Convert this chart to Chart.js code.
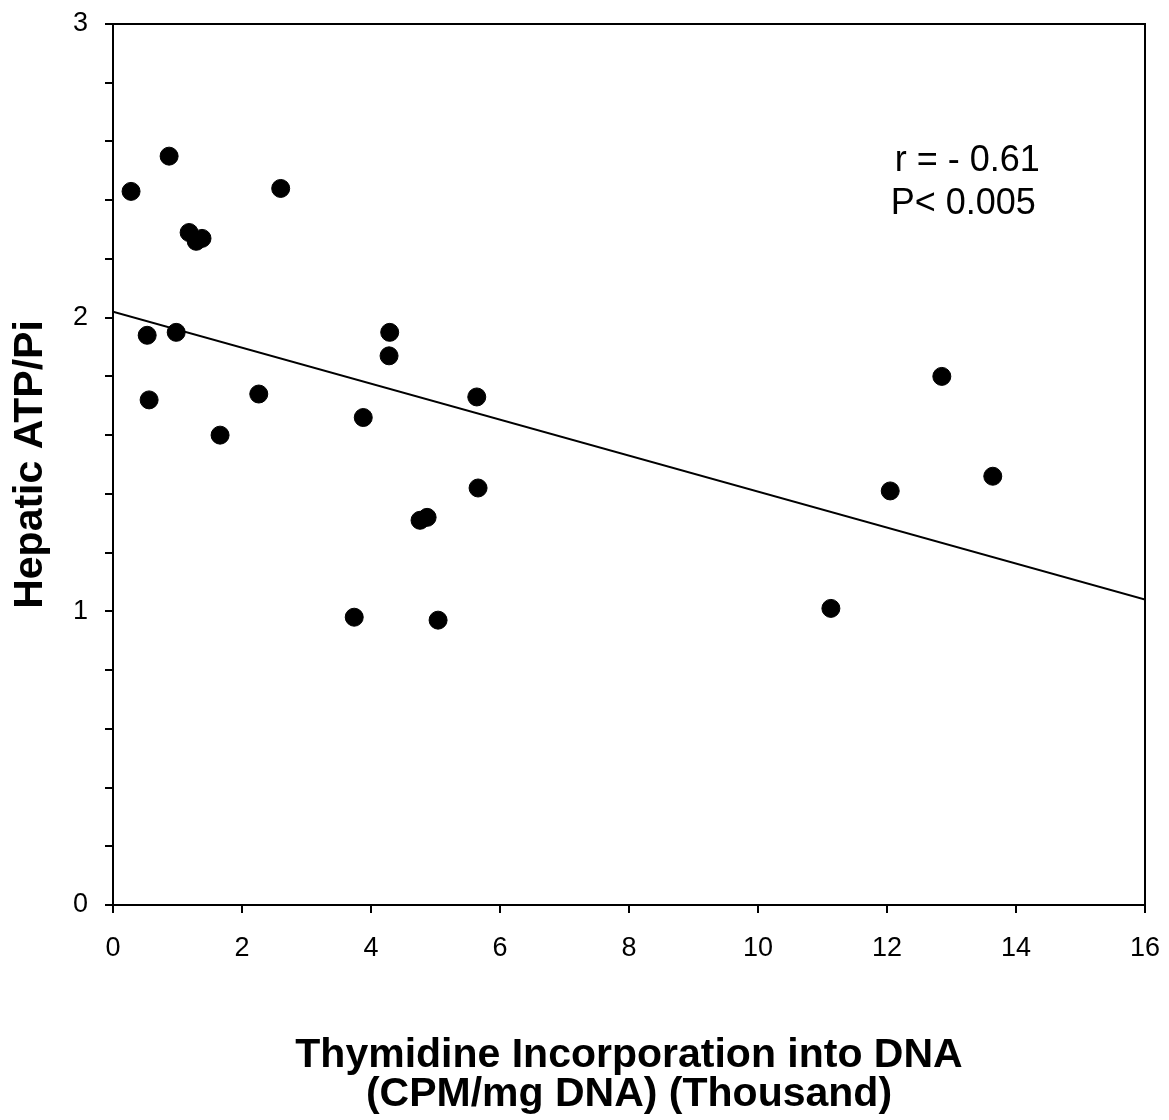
<!DOCTYPE html>
<html>
<head>
<meta charset="utf-8">
<script src="https://cdn.jsdelivr.net/npm/chart.js@4.4.0/dist/chart.umd.min.js"></script>
<style>
  html, body { margin: 0; padding: 0; background: #fff; }
  #wrap { width: 1169px; height: 1120px; }
</style>
</head>
<body>
<div id="wrap"><canvas id="Graph"></canvas></div>
<script>
// data (x in thousand CPM/mg DNA)
const thymidine = [0.28, 0.87, 1.18, 1.29, 1.38, 2.60, 0.53, 0.98, 0.56, 1.66, 2.26,
  4.29, 4.28, 3.88, 5.64, 5.66, 4.76, 4.87, 3.74, 5.04, 11.13, 12.05, 12.85, 13.64];
const atpPi = [2.43, 2.55, 2.29, 2.26, 2.27, 2.44, 1.94, 1.95, 1.72, 1.60, 1.74,
  1.95, 1.87, 1.66, 1.73, 1.42, 1.31, 1.32, 0.98, 0.97, 1.01, 1.41, 1.80, 1.46];
const fitX = [0, 16];
const fitY = [2.02, 1.04];
const statLines = ['r = - 0.61', 'P< 0.005'];

const ctx = document.getElementById('Graph').getContext('2d');

// frame around the plot and the r / P text
const framePlugin = {
  id: 'frame',
  afterDraw(chart) {
    const { ctx, chartArea: a, scales } = chart;
    ctx.save();
    ctx.strokeStyle = '#000';
    ctx.lineWidth = 2;
    ctx.strokeRect(a.left, a.top, a.right - a.left, a.bottom - a.top);
    ctx.fillStyle = '#000';
    ctx.font = '36px "Liberation Sans", Arial, sans-serif';
    ctx.textAlign = 'right';
    ctx.textBaseline = 'middle';
    const x = scales.x.getPixelForValue(14.37);
    ctx.fillText(statLines[0], x, scales.y.getPixelForValue(2.532));
    ctx.fillText(statLines[1], x - 4, scales.y.getPixelForValue(2.387));
    ctx.restore();
  }
};

const titleFont = { family: '"Liberation Sans", Arial, sans-serif', size: 41, weight: 'bold', lineHeight: 0.95 };
const tickFont = { family: '"Liberation Sans", Arial, sans-serif', size: 27 };

new Chart(ctx, {
  type: 'scatter',
  data: {
    datasets: [
      {
        data: thymidine.map((x, i) => ({ x: x, y: atpPi[i] })),
        backgroundColor: '#000',
        borderColor: '#000',
        pointRadius: 9,
        pointHoverRadius: 9,
      },
      {
        type: 'line',
        data: fitX.map((x, i) => ({ x: x, y: fitY[i] })),
        borderColor: '#000',
        borderWidth: 2,
        pointRadius: 0,
        fill: false,
      },
    ],
  },
  options: {
    responsive: true,
    maintainAspectRatio: false,
    animation: false,
    layout: { padding: { top: 24, right: 24, left: 0, bottom: 0 } },
    plugins: { legend: { display: false }, tooltip: { enabled: false } },
    scales: {
      x: {
        type: 'linear',
        min: 0,
        max: 16,
        border: { display: true, color: '#000', width: 2 },
        grid: { display: true, drawOnChartArea: false, color: '#000', lineWidth: 2, tickLength: 8 },
        ticks: { stepSize: 2, color: '#000', font: tickFont, padding: 19, maxRotation: 0 },
        title: { display: true, text: ['Thymidine Incorporation into DNA', '(CPM/mg DNA) (Thousand)'], color: '#000', font: titleFont, padding: { top: 0, bottom: 6 } },
        afterFit(scale) {
          scale.height = 215;
          scale.paddingLeft = 0;
          scale.paddingRight = 0;
        },
      },
      y: {
        type: 'linear',
        min: 0,
        max: 3,
        border: { display: true, color: '#000', width: 2 },
        grid: { display: true, drawOnChartArea: false, color: '#000', lineWidth: 2, tickLength: 8 },
        ticks: {
          stepSize: 0.2,
          color: '#000',
          font: tickFont,
          padding: 17,
          callback: (v) => Math.abs(v - Math.round(v)) < 1e-6 ? String(Math.round(v)) : '',
        },
        title: { display: true, text: 'Hepatic ATP/Pi', color: '#000', font: titleFont, padding: { top: 11, bottom: 0 } },
        afterFit(scale) {
          scale.width = 113;
          scale.paddingTop = 0;
          scale.paddingBottom = 0;
        },
      },
    },
  },
  plugins: [framePlugin],
});
</script>
</body>
</html>
